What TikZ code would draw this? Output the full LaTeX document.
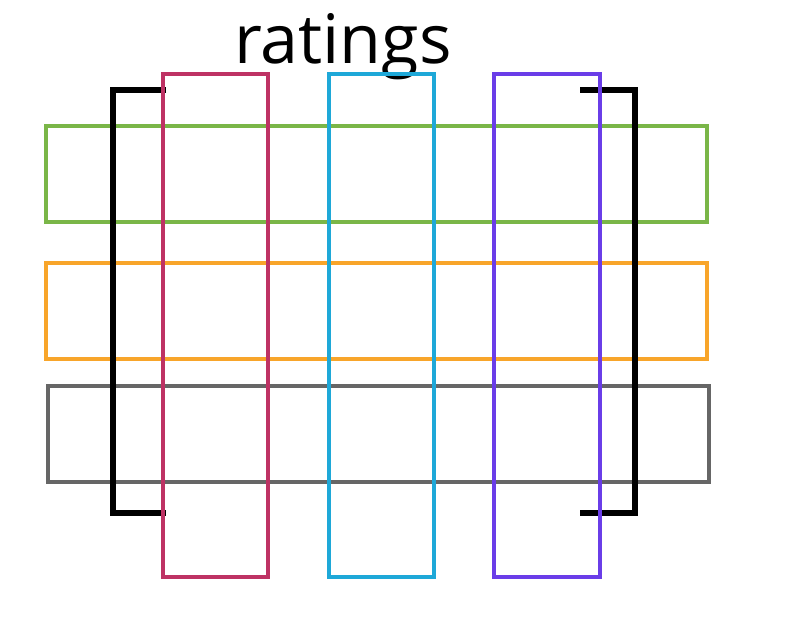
\documentclass[tikz,border=0pt]{standalone}
\usepackage{fontspec}
\setmainfont{Open Sans}
\definecolor{rtPink}{RGB}{190,50,100}
\definecolor{rtBlue}{RGB}{30,168,216}
\definecolor{rtPurple}{RGB}{106,61,232}
\definecolor{rtGreen}{RGB}{122,182,72}
\definecolor{rtOrange}{RGB}{248,165,42}
\definecolor{rtGray}{RGB}{102,102,102}
\begin{document}
\begin{tikzpicture}[
  x=0.025cm, y=-0.025cm,
  row/.style={line width=2.8pt},
  col/.style={line width=2.8pt},
  brk/.style={line width=4.2pt, black},
]
\useasboundingbox (0,0) rectangle (812,634);
% title
\node[anchor=base, inner sep=0pt, font=\fontsize{48.5pt}{58pt}\selectfont] (title) at (343,63) {ratings};
% rows
\draw[row, rtGreen]  (46,126) rectangle (707,222);
\draw[row, rtOrange] (46,263) rectangle (707,359);
\draw[row, rtGray]   (48,386) rectangle (709,482);
% matrix brackets
\draw[brk] (166,90) -- (113,90) -- (113,513) -- (166,513);
\draw[brk] (580,90) -- (635,90) -- (635,513) -- (580,513);
% columns
\draw[col, rtPink]   (163,74) rectangle (268,577);
\draw[col, rtBlue]   (329,74) rectangle (434,577);
\draw[col, rtPurple] (494,74) rectangle (600,577);
\end{tikzpicture}
\end{document}
